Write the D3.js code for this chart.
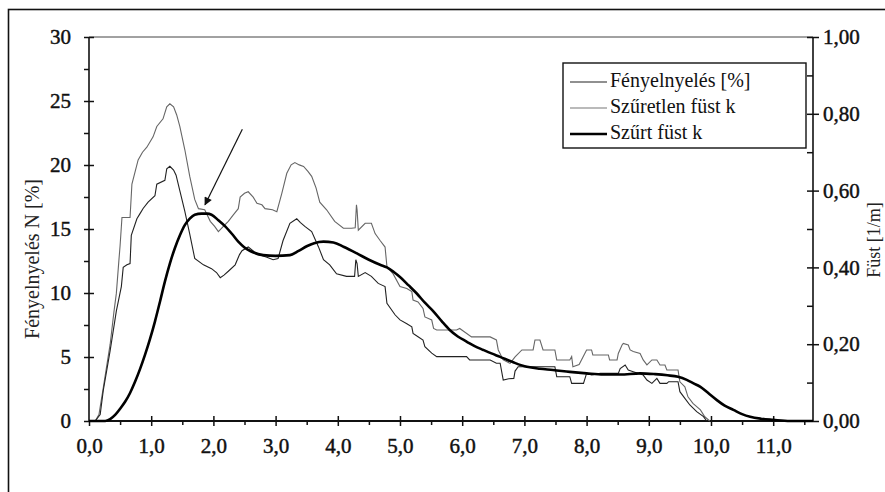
<!DOCTYPE html>
<html><head><meta charset="utf-8">
<script src="https://cdn.jsdelivr.net/npm/d3@7"></script>
<style>
html,body{margin:0;padding:0;background:#fff;}
svg{display:block;font-family:"Liberation Serif","DejaVu Serif",serif;}
</style></head>
<body><svg id="c" width="885" height="492"></svg>
<script>
// ---------- data ----------
const xTickValues = [0,1,2,3,4,5,6,7,8,9,10,11];
const leftTickValues = [0,5,10,15,20,25,30];
const rightTickValues = [0,0.2,0.4,0.6,0.8,1.0];

// Fényelnyelés N [%] (left axis)
const fenyT = [0.10,0.18,0.23,0.34,0.44,0.52,0.55,0.61,0.66,0.68,0.77,0.82,0.87,0.95,1.06,1.09,1.22,1.25,1.30,1.36,1.40,1.46,1.54,1.62,1.70,1.84,1.97,2.05,2.11,2.17,2.24,2.35,2.42,2.46,2.56,2.66,2.75,2.86,2.96,3.04,3.12,3.23,3.34,3.40,3.47,3.58,3.69,3.77,3.87,3.98,4.14,4.27,4.29,4.31,4.33,4.44,4.54,4.65,4.76,4.79,4.92,5.00,5.11,5.19,5.21,5.29,5.37,5.40,5.51,5.59,6.07,6.12,6.45,6.55,6.61,6.66,6.75,6.83,6.85,6.90,7.49,7.52,7.73,7.76,7.95,8.00,8.08,8.22,8.51,8.54,8.62,8.67,8.75,8.91,8.97,9.05,9.13,9.18,9.29,9.32,9.47,9.50,9.58,9.66,9.77,9.88,9.93];
const fenyN = [0,0.5,2.4,5.5,8.6,10.5,12.0,12.2,12.3,14.5,15.8,16.2,16.6,17.1,17.6,18.5,18.8,19.7,19.9,19.6,19.2,18.0,16.4,14.6,12.7,12.2,11.9,11.6,11.2,11.4,11.7,12.2,13.0,13.3,13.6,13.2,12.97,12.8,12.6,12.7,14.1,15.45,15.8,15.5,15.2,14.8,13.6,12.6,12.2,11.5,11.3,11.3,12.6,12.3,11.3,11.6,11.3,10.75,10.5,9.2,8.3,7.9,7.6,7.36,6.84,6.58,6.32,5.8,5.3,5.03,5.03,4.77,4.77,4.51,4.51,3.2,3.3,3.33,3.9,4.24,4.24,3.46,3.46,2.94,2.94,3.72,3.6,3.72,3.72,4.1,4.38,3.98,3.85,3.59,3.2,2.94,3.33,2.94,2.94,3.07,3.07,2.29,1.77,1.25,0.73,0.34,0];

// Szűretlen füst k [1/m] (right axis)
const szuretlenT = [0.10,0.16,0.23,0.34,0.40,0.44,0.48,0.50,0.53,0.66,0.69,0.79,0.86,0.93,1.03,1.09,1.19,1.25,1.30,1.36,1.41,1.46,1.54,1.62,1.70,1.76,1.86,1.95,2.02,2.08,2.16,2.24,2.32,2.40,2.43,2.50,2.56,2.64,2.70,2.78,2.83,2.95,3.02,3.10,3.18,3.25,3.31,3.38,3.45,3.52,3.58,3.65,3.71,3.82,3.95,4.09,4.22,4.28,4.30,4.31,4.33,4.44,4.54,4.60,4.68,4.76,4.79,4.89,5.00,5.11,5.19,5.21,5.29,5.37,5.40,5.51,5.54,5.59,5.91,5.96,6.15,6.45,6.55,6.58,6.66,6.77,6.85,6.96,7.14,7.17,7.25,7.30,7.49,7.52,7.73,7.76,7.78,7.88,8.00,8.08,8.10,8.35,8.37,8.49,8.51,8.57,8.59,8.67,8.70,8.75,8.86,8.91,8.97,9.05,9.13,9.18,9.26,9.29,9.47,9.50,9.58,9.63,9.71,9.83,9.90,9.98];
const szuretlenK = [0,0.017,0.087,0.200,0.283,0.333,0.417,0.457,0.530,0.530,0.617,0.680,0.700,0.713,0.740,0.767,0.787,0.818,0.826,0.818,0.797,0.767,0.707,0.637,0.577,0.553,0.550,0.520,0.507,0.493,0.507,0.520,0.537,0.553,0.583,0.593,0.597,0.583,0.567,0.563,0.553,0.550,0.545,0.593,0.645,0.667,0.673,0.667,0.663,0.650,0.637,0.607,0.570,0.550,0.520,0.502,0.502,0.503,0.563,0.550,0.497,0.515,0.515,0.488,0.470,0.453,0.402,0.383,0.350,0.345,0.337,0.315,0.310,0.293,0.271,0.263,0.241,0.237,0.237,0.241,0.219,0.219,0.211,0.185,0.159,0.150,0.167,0.185,0.185,0.211,0.211,0.185,0.185,0.159,0.159,0.168,0.141,0.147,0.185,0.185,0.172,0.172,0.159,0.159,0.176,0.198,0.202,0.198,0.185,0.181,0.176,0.159,0.146,0.159,0.159,0.146,0.146,0.133,0.133,0.102,0.089,0.063,0.046,0.029,0.011,0];

// Szűrt füst k [1/m] (right axis)
const szurtT = [0.0,0.26,0.34,0.42,0.50,0.58,0.66,0.74,0.82,0.90,0.98,1.06,1.14,1.22,1.30,1.38,1.46,1.54,1.62,1.70,1.81,1.90,1.97,2.08,2.19,2.30,2.40,2.50,2.60,2.80,3.00,3.23,3.37,3.50,3.62,3.77,3.93,4.10,4.30,4.50,4.68,4.79,4.90,5.00,5.14,5.27,5.40,5.54,5.67,5.80,5.93,6.07,6.20,6.34,6.47,6.61,6.82,7.04,7.25,7.46,7.73,8.00,8.27,8.54,8.86,9.10,9.30,9.47,9.61,9.72,9.83,9.96,10.09,10.22,10.36,10.50,10.63,10.80,11.00,11.27,11.64];
const szurtK = [0,0,0.005,0.016,0.032,0.050,0.073,0.102,0.135,0.172,0.213,0.259,0.310,0.363,0.410,0.450,0.483,0.510,0.527,0.537,0.540,0.540,0.537,0.523,0.507,0.487,0.467,0.452,0.442,0.432,0.430,0.432,0.443,0.455,0.463,0.467,0.465,0.453,0.437,0.420,0.407,0.400,0.388,0.375,0.353,0.332,0.308,0.285,0.260,0.237,0.220,0.207,0.195,0.185,0.176,0.167,0.153,0.141,0.136,0.133,0.128,0.124,0.121,0.121,0.124,0.122,0.119,0.115,0.107,0.098,0.089,0.072,0.055,0.040,0.029,0.018,0.011,0.006,0.003,0,0];

const legendLabels = ["Fényelnyelés [%]", "Szűretlen füst k", "Szűrt füst k"];
// arrow annotation, data coords [t, N%]
const arrowFrom = [2.465, 22.8];
const arrowTo = [1.865, 16.9];

// ---------- layout ----------
const svg = d3.select("#c");
const X0 = 89, X1 = 813, Y0 = 421, Y1 = 37;
const x = d3.scaleLinear().domain([0, 11.64]).range([X0, X1]);
const yL = d3.scaleLinear().domain([0, 30]).range([Y0, Y1]);
const yR = d3.scaleLinear().domain([0, 1]).range([Y0, Y1]);

// outer frame
svg.append("rect").attr("x", 8.5).attr("y", 9.5).attr("width", 900).attr("height", 520)
  .attr("fill", "none").attr("stroke", "#111").attr("stroke-width", 1.6);

// plot top line
svg.append("line").attr("x1", X0).attr("x2", X1).attr("y1", Y1).attr("y2", Y1)
  .attr("stroke", "#444").attr("stroke-width", 1);

const comma = (d, n) => d.toFixed(n).replace(".", ",");
const tickFont = g => g.selectAll("text").attr("font-family", "Liberation Serif").attr("font-size", 21)
  .attr("font-weight", "normal").attr("fill", "#111").attr("stroke", "#111").attr("stroke-width", 0.45);
const styleAxis = g => { g.selectAll("line").attr("stroke", "#111").attr("stroke-width", 1.5); g.select(".domain").remove(); };

// left axis
const minorL = d3.range(2.5, 30, 5);
svg.append("g").attr("transform", `translate(${X0},0)`)
  .call(d3.axisLeft(yL).tickValues(leftTickValues).tickSize(5).tickPadding(13).tickFormat(d => d))
  .call(styleAxis).call(tickFont);
svg.append("g").attr("transform", `translate(${X0},0)`)
  .call(d3.axisRight(yL).tickValues(leftTickValues.slice(1)).tickSize(5).tickFormat(""))
  .call(styleAxis);
svg.append("g").attr("transform", `translate(${X0},0)`)
  .call(d3.axisLeft(yL).tickValues(minorL).tickSize(5).tickFormat(""))
  .call(styleAxis);
svg.append("line").attr("x1", X0).attr("x2", X0).attr("y1", Y1).attr("y2", Y0 + 1)
  .attr("stroke", "#111").attr("stroke-width", 1.6);

// right axis
const minorR = d3.range(0.1, 1, 0.2);
svg.append("g").attr("transform", `translate(${X1},0)`)
  .call(d3.axisRight(yR).tickValues(rightTickValues).tickSize(6).tickPadding(4).tickFormat(d => comma(d, 2)))
  .call(styleAxis).call(tickFont);
svg.append("g").attr("transform", `translate(${X1},0)`)
  .call(d3.axisLeft(yR).tickValues(rightTickValues.slice(1)).tickSize(6).tickFormat(""))
  .call(styleAxis);
svg.append("g").attr("transform", `translate(${X1},0)`)
  .call(d3.axisLeft(yR).tickValues(minorR).tickSize(6).tickFormat(""))
  .call(styleAxis);
svg.append("line").attr("x1", X1).attr("x2", X1).attr("y1", Y1).attr("y2", Y0 + 1)
  .attr("stroke", "#111").attr("stroke-width", 1.6);

// bottom axis
const minorX = d3.range(0.5, 11.6, 1);
svg.append("g").attr("transform", `translate(0,${Y0})`)
  .call(d3.axisBottom(x).tickValues(xTickValues).tickSize(5).tickPadding(12).tickFormat(d => comma(d, 1)))
  .call(styleAxis).call(tickFont);
svg.append("g").attr("transform", `translate(0,${Y0})`)
  .call(d3.axisTop(x).tickValues(xTickValues.slice(1)).tickSize(5).tickFormat(""))
  .call(styleAxis);
svg.append("g").attr("transform", `translate(0,${Y0})`)
  .call(d3.axisBottom(x).tickValues(minorX).tickSize(4).tickFormat(""))
  .call(styleAxis);
svg.append("line").attr("x1", X0).attr("x2", X1).attr("y1", Y0).attr("y2", Y0)
  .attr("stroke", "#111").attr("stroke-width", 1.8);

// axis titles
svg.append("text").attr("transform", `translate(39,259) rotate(-90)`).attr("text-anchor", "middle")
  .attr("font-size", 20).attr("fill", "#222").text("Fényelnyelés N [%]");
svg.append("text").attr("transform", `translate(880,240) rotate(-90)`).attr("text-anchor", "middle")
  .attr("font-size", 18).attr("fill", "#222").text("Füst [1/m]");

// series
const lineL = d3.line().x(d => x(d[0])).y(d => yL(d[1]));
const lineR = d3.line().x(d => x(d[0])).y(d => yR(d[1]));
const lineRs = d3.line().x(d => x(d[0])).y(d => yR(d[1])).curve(d3.curveMonotoneX);

svg.append("path").datum(d3.zip(szuretlenT, szuretlenK)).attr("d", lineR)
  .attr("fill", "none").attr("stroke", "#666").attr("stroke-width", 1.1);
svg.append("path").datum(d3.zip(fenyT, fenyN)).attr("d", lineL)
  .attr("fill", "none").attr("stroke", "#222").attr("stroke-width", 1.1);
svg.append("path").datum(d3.zip(szurtT, szurtK)).attr("d", lineRs)
  .attr("fill", "none").attr("stroke", "#000").attr("stroke-width", 2.6);

// arrow
svg.append("defs").append("marker").attr("id", "ah").attr("viewBox", "0 0 10 10")
  .attr("refX", 9).attr("refY", 5).attr("markerWidth", 10).attr("markerHeight", 8)
  .attr("markerUnits", "userSpaceOnUse").attr("orient", "auto")
  .append("path").attr("d", "M0,0 L10,5 L0,10 z").attr("fill", "#111");
svg.append("line").attr("x1", x(arrowFrom[0])).attr("y1", yL(arrowFrom[1]))
  .attr("x2", x(arrowTo[0])).attr("y2", yL(arrowTo[1]))
  .attr("stroke", "#111").attr("stroke-width", 1.2).attr("marker-end", "url(#ah)");

// legend
const lg = svg.append("g");
lg.append("rect").attr("x", 563).attr("y", 63).attr("width", 243).attr("height", 85)
  .attr("fill", "#fff").attr("stroke", "#111").attr("stroke-width", 1.4);
const lgStroke = ["#222", "#777", "#000"], lgW = [1.2, 1.2, 2.6], lgY = [82, 108, 134];
legendLabels.forEach((t, i) => {
  lg.append("line").attr("x1", 570).attr("x2", 607).attr("y1", lgY[i]).attr("y2", lgY[i])
    .attr("stroke", lgStroke[i]).attr("stroke-width", lgW[i]);
  lg.append("text").attr("x", 610).attr("y", lgY[i] + 5).attr("font-size", 20).attr("fill", "#111").text(t);
});
</script></body></html>
